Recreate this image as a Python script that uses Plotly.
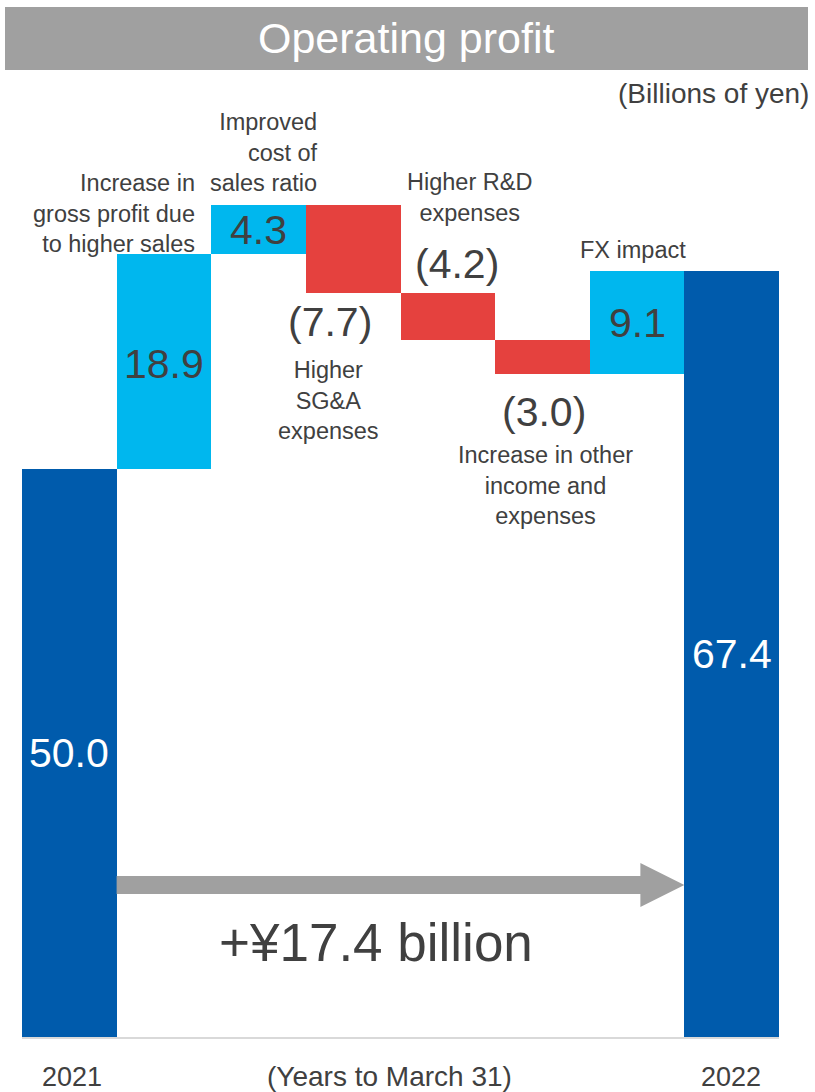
import plotly.graph_objects as go

# ---- data ----
categories = ["2021", "Gross profit", "Cost of sales ratio", "SG&A", "R&D",
              "Other income/expenses", "FX impact", "2022"]
values = [50.0, 18.9, 4.3, -7.7, -4.2, -3.0, 9.1, 67.4]
measures = ["total", "relative", "relative", "relative", "relative", "relative", "relative", "total"]
value_labels = ["50.0", "18.9", "4.3", "(7.7)", "(4.2)", "(3.0)", "9.1", "67.4"]
change_text = "+¥17.4 billion"

# ---- styling ----
FONT = "Arial, 'Liberation Sans', sans-serif"
TXT = "#404040"
C_TOTAL = "#005BAC"
C_UP = "#00B7EE"
C_DOWN = "#E5413E"
GRAY = "#A0A0A0"

W, H = 815, 1092
ML, MR, MT, MB = 22, 36, 71, 55
YMAX = 85.0
plot_w = W - ML - MR
plot_h = H - MT - MB
ppu = plot_h / YMAX
slot = plot_w / len(categories)


def px_x(px):
    return (px - ML) / slot - 0.5


def px_y(py):
    return (H - MB - py) / ppu


def pap_x(px):
    return (px - ML) / plot_w


def pap_y(py):
    return (H - MB - py) / plot_h


# compute bases / heights
bases, heights, colors = [], [], []
running = 0.0
for v, m in zip(values, measures):
    if m == "total":
        bases.append(0.0)
        heights.append(v)
        colors.append(C_TOTAL)
        running = v
    else:
        if v >= 0:
            bases.append(running)
            heights.append(v)
            colors.append(C_UP)
        else:
            bases.append(running + v)
            heights.append(-v)
            colors.append(C_DOWN)
        running += v

xs = list(range(len(categories)))
fig = go.Figure()
fig.add_trace(go.Bar(
    x=xs, y=heights, base=bases, width=1.0,
    marker=dict(color=colors, line=dict(width=0)),
    hoverinfo="skip", showlegend=False,
))

VAL_SIZE = 41
ann = []
# value labels
for i, (v, lab) in enumerate(zip(values, value_labels)):
    top = bases[i] + heights[i]
    bot = bases[i]
    if measures[i] == "total":
        ann.append(dict(x=i, y=(top + bot) / 2, text=lab, showarrow=False,
                        font=dict(family=FONT, size=VAL_SIZE, color="white"),
                        xanchor="center", yanchor="middle"))
    elif v >= 0:
        ann.append(dict(x=i, y=(top + bot) / 2, text=lab, showarrow=False,
                        font=dict(family=FONT, size=VAL_SIZE, color=TXT),
                        xanchor="center", yanchor="middle", yshift=-3 if heights[i] > 10 else 0))

# negative value labels (outside)
ann.append(dict(x=px_x(330), y=px_y(322), text=value_labels[3], showarrow=False,
                font=dict(family=FONT, size=VAL_SIZE, color=TXT)))
ann.append(dict(x=px_x(457), y=px_y(264), text=value_labels[4], showarrow=False,
                font=dict(family=FONT, size=VAL_SIZE, color=TXT)))
ann.append(dict(x=px_x(544), y=px_y(412), text=value_labels[5], showarrow=False,
                font=dict(family=FONT, size=VAL_SIZE, color=TXT)))

# category descriptions
desc = [
    ("Increase in<br>gross profit due<br>to higher sales", 197, 213, "right"),
    ("Improved<br>cost of<br>sales ratio", 320, 152, "right"),
    ("Higher<br>SG&A<br>expenses", 328, 400, "center"),
    ("Higher R&D<br>expenses", 469, 197, "center"),
    ("Increase in other<br>income and<br>expenses", 545, 485, "center"),
    ("FX impact", 633, 250, "center"),
]
for text, px, py, al in desc:
    ann.append(dict(x=px_x(px), y=px_y(py), text=text, showarrow=False, align=al,
                    xanchor=al if al != "center" else "center", yanchor="middle",
                    font=dict(family=FONT, size=23.5, color=TXT)))

# change text
ann.append(dict(x=px_x(376), y=px_y(942), text=change_text, showarrow=False,
                font=dict(family=FONT, size=53, color=TXT)))

# title, unit, bottom labels (paper coords)
ann.append(dict(xref="paper", yref="paper", x=pap_x(406), y=pap_y(38), text="Operating profit",
                showarrow=False, font=dict(family=FONT, size=43, color="white"),
                xanchor="center", yanchor="middle"))
ann.append(dict(xref="paper", yref="paper", x=pap_x(811), y=pap_y(93), text="(Billions of yen)",
                showarrow=False, font=dict(family=FONT, size=28, color=TXT),
                xanchor="right", yanchor="middle"))
ann.append(dict(xref="paper", yref="paper", x=pap_x(72), y=pap_y(1077), text=categories[0],
                showarrow=False, font=dict(family=FONT, size=27, color=TXT),
                xanchor="center", yanchor="middle"))
ann.append(dict(xref="paper", yref="paper", x=pap_x(389), y=pap_y(1076), text="(Years to March 31)",
                showarrow=False, font=dict(family=FONT, size=28, color=TXT),
                xanchor="center", yanchor="middle"))
ann.append(dict(xref="paper", yref="paper", x=pap_x(731), y=pap_y(1077), text=categories[-1],
                showarrow=False, font=dict(family=FONT, size=27, color=TXT),
                xanchor="center", yanchor="middle"))

shapes = []
# title bar
shapes.append(dict(type="rect", xref="paper", yref="paper", x0=pap_x(5), x1=pap_x(808),
                   y0=pap_y(70), y1=pap_y(7), fillcolor=GRAY, line=dict(width=0), layer="below"))
# arrow: from right edge of first bar to left edge of last bar
ya = px_y(885)
shaft = 9 / ppu
head_h = 22 / ppu
head_l = 44 / slot
x_start = xs[0] + 0.5
x_tip = xs[-1] - 0.5
shapes.append(dict(type="rect", xref="x", yref="y", x0=x_start, x1=x_tip - head_l + 0.02,
                   y0=ya - shaft, y1=ya + shaft, fillcolor=GRAY, line=dict(width=0)))
shapes.append(dict(type="path", xref="x", yref="y",
                   path=f"M {x_tip - head_l},{ya - head_h} L {x_tip},{ya} L {x_tip - head_l},{ya + head_h} Z",
                   fillcolor=GRAY, line=dict(width=0)))

fig.update_layout(
    width=W, height=H,
    margin=dict(l=ML, r=MR, t=MT, b=MB, pad=0),
    paper_bgcolor="white", plot_bgcolor="white",
    bargap=0,
    xaxis=dict(range=[-0.5, len(categories) - 0.5], showticklabels=False, showgrid=False,
               zeroline=False, showline=True, linecolor="#D9D9D9", linewidth=2, ticks=""),
    yaxis=dict(range=[0, YMAX], visible=False, showgrid=False, zeroline=False),
    annotations=ann, shapes=shapes,
    showlegend=False,
)

fig.write_html("out.html")
